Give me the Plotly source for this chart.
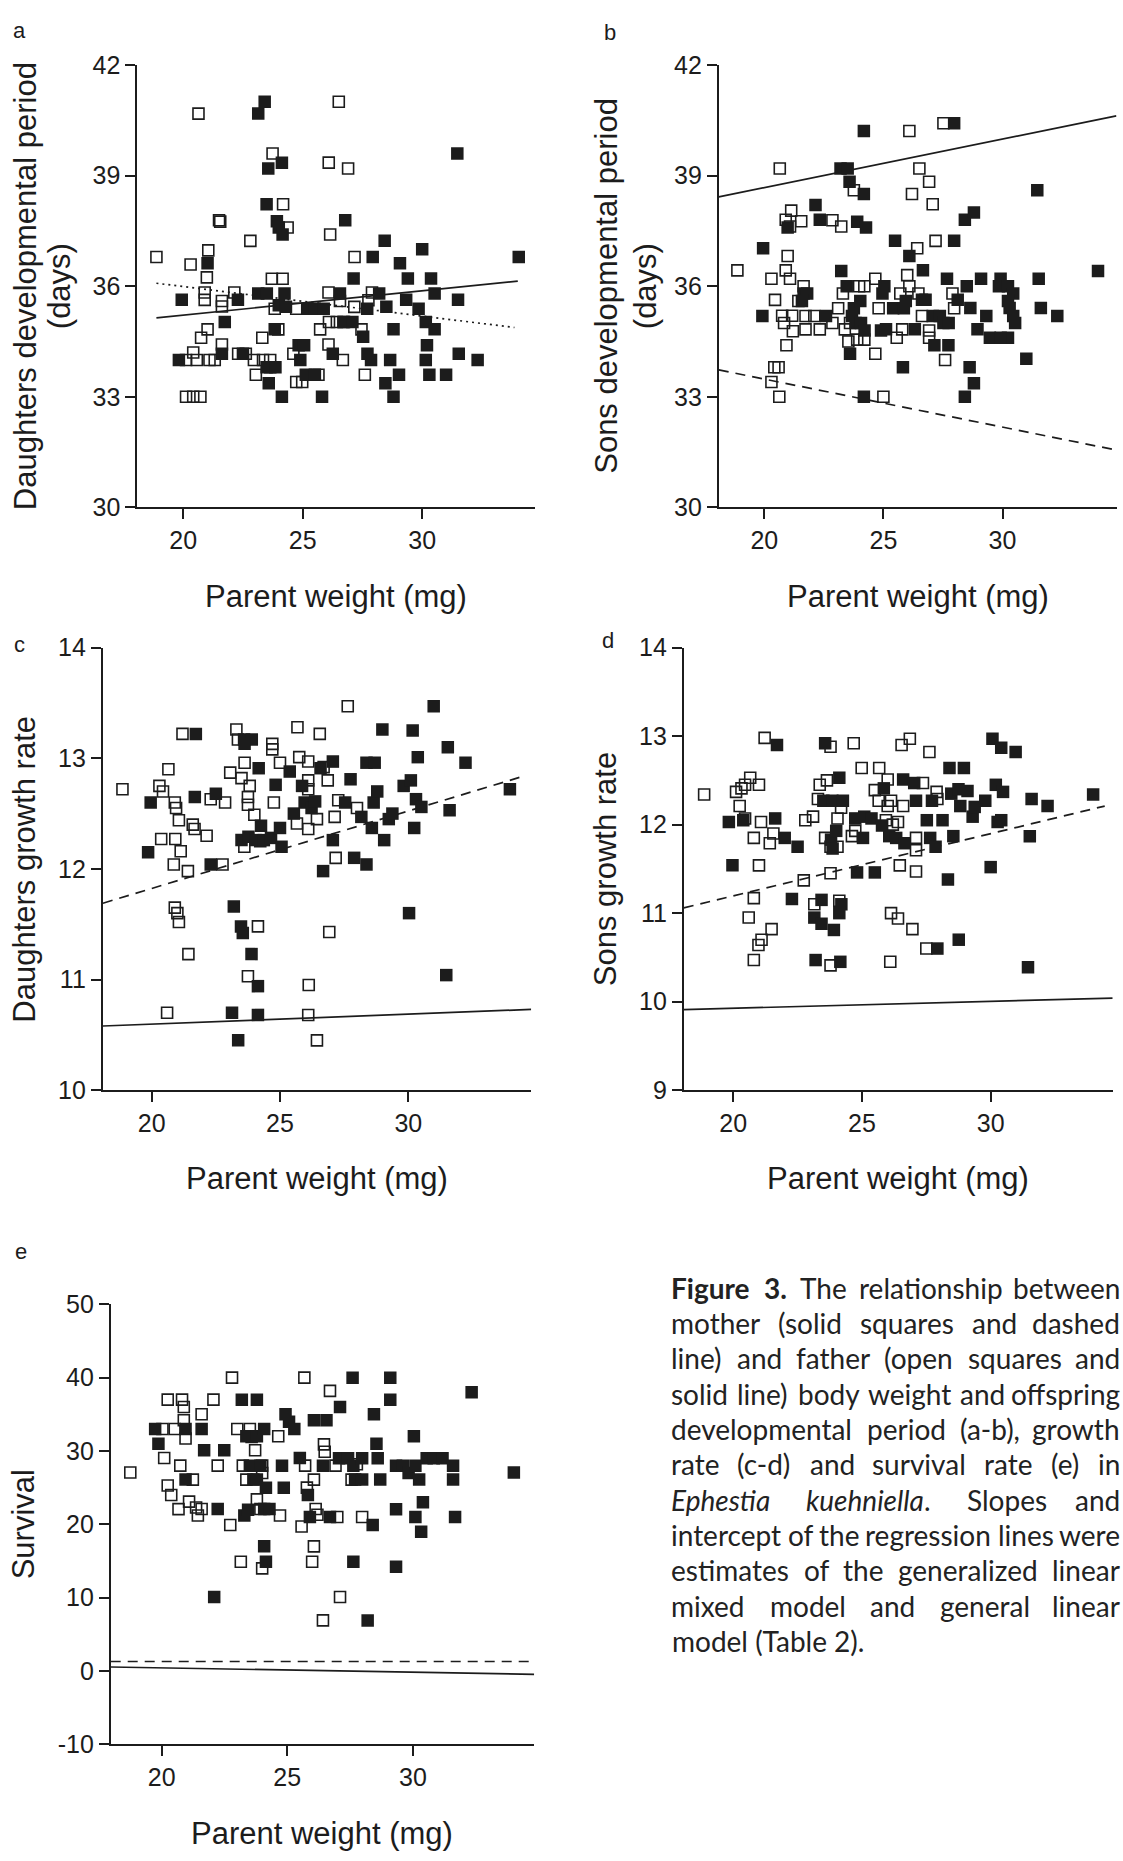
import re
import plotly.graph_objects as go

W, H = 1123, 1861

# ---------------- panel a: daughters developmental period (days) ----------------
a_father_x = [18.88, 20.64, 26.51, 23.74, 26.09, 26.9, 24.18, 21.5, 21.55, 24.37, 22.81, 26.15, 21.05,
              20.31, 20.99, 27.17, 23.71, 24.16, 20.9, 20.9, 22.14, 21.62, 21.62, 23.83, 24.73, 26.08,
              26.56, 27.16, 27.9, 27.75, 25.73, 26.1, 26.43, 26.73, 27.46, 21.02, 20.75, 21.62, 23.31,
              23.98, 26.08, 20.42, 20.12, 20.57, 21.1, 21.32, 22.3, 22.62, 22.96, 23.34, 23.64, 23.64,
              23.04, 24.61, 24.73, 24.98, 25.66, 26.68, 27.6, 20.12, 20.42, 20.72]
a_father_y = [36.79, 40.68, 41.0, 39.6, 39.35, 39.19, 38.22, 37.79, 37.75, 37.59, 37.23, 37.4, 36.97,
              36.59, 36.24, 36.79, 36.2, 36.2, 35.83, 35.63, 35.83, 35.6, 35.45, 35.39, 35.39, 35.83,
              35.6, 35.44, 35.83, 35.62, 34.83, 35.03, 35.03, 35.03, 34.83, 34.83, 34.6, 34.42, 34.6,
              34.83, 34.42, 34.2, 34.0, 34.0, 34.0, 34.0, 34.17, 34.17, 34.0, 34.0, 34.0, 33.8,
              33.6, 34.17, 33.4, 33.4, 33.6, 34.0, 33.6, 33.0, 33.0, 33.0]
a_mother_x = [23.14, 23.41, 23.56, 24.13, 31.47, 23.49, 23.92, 24.0, 24.16, 26.78, 28.43, 30.0, 27.93,
              34.04, 21.02, 29.07, 29.4, 27.13, 30.37, 30.52, 19.94, 22.29, 23.14, 23.5, 24.24, 24.0,
              24.3, 25.2, 25.5, 25.88, 26.56, 28.2, 28.5, 27.7, 29.33, 29.85, 31.5, 26.7, 27.08, 27.53,
              28.8, 30.15, 30.52, 21.74, 23.83, 21.62, 22.5, 24.83, 25.06, 26.26, 27.71, 27.86, 28.66,
              30.2, 30.15, 31.53, 32.32, 19.82, 23.49, 23.86, 23.58, 24.9, 25.13, 25.51, 24.13, 25.81,
              28.46, 28.8, 29.03, 30.3, 31.0]
a_mother_y = [40.68, 41.0, 39.19, 39.35, 39.6, 38.22, 37.76, 37.59, 37.4, 37.79, 37.23, 37.0, 36.79,
              36.79, 36.62, 36.62, 36.21, 36.21, 36.21, 35.8, 35.63, 35.63, 35.8, 35.8, 35.8, 35.48,
              35.44, 35.39, 35.39, 35.39, 35.8, 35.8, 35.44, 35.39, 35.63, 35.39, 35.63, 35.03, 35.03, 34.63,
              34.83, 35.03, 34.83, 35.03, 34.83, 34.17, 34.17, 34.4, 34.4, 34.17, 34.17, 34.0, 34.0,
              34.4, 34.0, 34.17, 34.0, 34.0, 33.8, 33.8, 33.37, 34.0, 33.6, 33.6, 33.0, 33.0,
              33.37, 33.0, 33.6, 33.6, 33.6]
a_father_line_x = [18.88, 34.0]
a_father_line_y = [35.14, 36.14]
a_mother_line_x = [18.88, 33.86]
a_mother_line_y = [36.08, 34.88]

# ---------------- panel b: sons developmental period (days) ----------------
b_father_x = [18.87, 20.65, 26.09, 27.52, 26.51, 26.92, 26.2, 27.07, 23.76, 21.13, 20.9, 21.08, 21.55,
              22.86, 23.23, 26.42, 27.19, 20.98, 20.9, 21.08, 20.3, 20.45, 21.65, 21.43, 20.75, 21.17,
              20.83, 21.73, 22.1, 21.2, 20.93, 21.73, 22.33, 22.86, 23.1, 23.3, 23.38, 23.6, 23.98,
              24.2, 23.53, 23.9, 24.2, 24.66, 24.66, 24.8, 25.71, 25.79, 25.56, 26.0, 26.09, 26.47,
              26.62, 26.92, 26.92, 27.59, 27.9, 27.97, 20.42, 20.6, 20.3, 20.63, 25.0]
b_father_y = [36.43, 39.19, 40.21, 40.42, 39.19, 38.83, 38.5, 38.22, 38.6, 38.05, 37.8, 37.62, 37.76,
              37.79, 37.62, 37.03, 37.23, 36.82, 36.43, 36.2, 36.2, 35.63, 36.0, 35.6, 35.2, 35.2,
              35.0, 35.19, 35.19, 34.78, 34.4, 34.83, 34.83, 35.0, 35.4, 35.8, 34.83, 35.0, 36.0,
              36.0, 34.5, 34.55, 34.55, 36.2, 34.17, 35.4, 35.8, 34.83, 34.6, 36.3, 36.0, 35.8,
              35.19, 34.8, 34.6, 34.0, 35.8, 35.4, 33.8, 33.8, 33.4, 33.0, 33.0]
b_mother_x = [19.95, 19.92, 24.18, 27.97, 23.2, 23.5, 23.58, 24.18, 22.15, 22.33, 20.98, 23.9, 24.27,
              25.49, 26.09, 26.66, 27.97, 28.42, 28.8, 31.46, 34.01, 31.52, 31.61, 32.3, 31.0, 23.23,
              23.46, 21.65, 21.8, 21.58, 22.59, 23.76, 24.03, 23.68, 23.83, 24.06, 24.21, 23.6, 24.9,
              25.11, 25.04, 24.96, 25.41, 25.86, 25.94, 26.32, 26.62, 26.77, 25.82, 27.07, 27.37, 27.52,
              27.74, 27.14, 27.73, 27.67, 28.12, 28.5, 28.65, 29.1, 28.95, 29.32, 29.47, 29.92, 29.85,
              30.23, 30.45, 30.23, 30.3, 30.45, 30.53, 30.23, 29.92, 28.62, 28.8, 28.42, 24.18]
b_mother_y = [37.03, 35.19, 40.21, 40.42, 39.19, 39.19, 38.83, 38.5, 38.2, 37.8, 37.59, 37.75, 37.59,
              37.23, 36.82, 36.43, 37.23, 37.8, 38.0, 38.6, 36.41, 36.2, 35.41, 35.19, 34.03, 36.41,
              36.0, 35.8, 35.8, 35.6, 35.19, 35.4, 35.6, 35.19, 35.0, 35.0, 34.8, 34.17, 34.8,
              34.83, 36.0, 35.8, 35.4, 35.4, 35.6, 34.83, 35.63, 35.63, 33.8, 35.19, 35.19, 35.0,
              35.0, 34.4, 34.4, 36.2, 35.63, 36.0, 35.41, 36.2, 34.83, 35.19, 34.6, 36.2, 36.0,
              36.0, 35.8, 35.6, 35.41, 35.19, 35.0, 34.6, 34.6, 33.8, 33.37, 33.0, 33.0]
b_father_line_x = [18.09, 34.78]
b_father_line_y = [38.42, 40.62]
b_mother_line_x = [18.09, 34.6]
b_mother_line_y = [33.73, 31.58]

# ---------------- panel c: daughters growth rate ----------------
c_father_x = [18.86, 20.65, 20.3, 20.44, 20.9, 20.95, 21.06, 20.37, 20.92, 21.13, 20.86, 21.41, 21.6,
              21.67, 22.14, 22.3, 22.86, 21.2, 22.76, 23.06, 23.3, 23.36, 23.5, 23.62, 23.82, 23.75,
              23.75, 23.61, 24.0, 24.23, 24.7, 24.7, 25.0, 24.76, 25.75, 25.66, 26.1, 25.68, 26.55,
              26.1, 26.1, 26.1, 26.44, 26.86, 26.7, 27.13, 27.17, 26.92, 27.64, 27.27, 28.0, 20.9,
              21.0, 21.06, 21.43, 24.14, 23.75, 26.12, 20.6, 26.1, 26.44]
c_father_y = [12.72, 12.9, 12.75, 12.7, 12.6, 12.55, 12.44, 12.27, 12.27, 12.16, 12.04, 11.98, 12.4,
              12.36, 12.3, 12.63, 12.6, 13.22, 12.04, 12.87, 13.26, 13.17, 12.82, 12.96, 12.75, 12.65,
              12.58, 12.2, 12.49, 12.25, 13.13, 13.08, 12.96, 12.6, 13.01, 12.41, 12.36, 13.28, 13.22,
              12.8, 12.72, 12.97, 12.45, 12.8, 12.92, 12.47, 12.1, 11.43, 13.47, 12.62, 12.55, 11.65,
              11.6, 11.52, 11.23, 11.48, 11.03, 10.95, 10.7, 10.68, 10.45]
c_mother_x = [19.86, 19.96, 21.68, 21.72, 22.5, 22.3, 23.6, 23.9, 23.62, 24.17, 23.5, 23.77, 24.05,
              24.26, 24.37, 24.65, 24.83, 25.0, 25.06, 25.38, 25.86, 25.54, 25.96, 26.23, 26.37, 26.58,
              27.06, 26.68, 27.06, 27.54, 27.75, 27.89, 28.37, 28.17, 28.37, 28.69, 28.58, 28.65, 28.79,
              28.99, 29.06, 29.24, 29.38, 29.82, 30.1, 30.17, 30.23, 30.37, 30.3, 30.51, 30.99, 31.54,
              31.61, 32.23, 33.96, 30.03, 31.48, 23.2, 23.48, 23.55, 23.89, 24.14, 23.13, 24.14, 23.37]
c_mother_y = [12.15, 12.6, 12.65, 13.22, 12.68, 12.04, 13.17, 13.17, 13.13, 12.91, 12.26, 12.29, 12.26,
              12.39, 12.26, 12.28, 12.76, 12.37, 12.2, 12.88, 12.75, 12.5, 12.6, 12.55, 12.61, 12.91,
              12.97, 11.98, 12.26, 12.6, 12.81, 12.1, 12.04, 12.47, 12.96, 12.96, 12.37, 12.6, 12.7,
              13.26, 12.26, 12.45, 12.5, 12.75, 12.8, 13.25, 12.37, 13.01, 12.63, 12.56, 13.47, 13.1,
              12.53, 12.96, 12.72, 11.6, 11.04, 11.66, 11.48, 11.42, 11.23, 10.94, 10.7, 10.68, 10.45]
c_father_line_x = [18.1, 34.79]
c_father_line_y = [10.58, 10.73]
c_mother_line_x = [18.1, 34.52]
c_mother_line_y = [11.69, 12.84]

# ---------------- panel d: sons growth rate ----------------
d_father_x = [18.87, 21.22, 20.11, 20.32, 20.46, 20.66, 21.0, 20.25, 20.46, 21.08, 20.8, 21.42, 21.56,
              21.0, 20.8, 20.6, 21.1, 20.98, 20.8, 21.49, 22.8, 23.1, 22.74, 23.36, 23.29, 23.64,
              23.78, 23.57, 23.78, 23.78, 23.15, 24.05, 24.05, 24.19, 24.12, 23.78, 24.68, 24.61, 24.74,
              24.99, 25.67, 25.5, 25.65, 26.0, 26.0, 26.13, 25.93, 26.2, 26.4, 26.47, 26.13, 26.4,
              26.96, 26.1, 26.54, 26.86, 26.6, 27.1, 27.1, 27.1, 27.37, 27.62, 27.9, 27.93, 27.5]
d_father_y = [12.34, 12.98, 12.37, 12.41, 12.45, 12.53, 12.45, 12.21, 12.07, 12.03, 11.85, 11.79, 11.9,
              11.54, 11.17, 10.95, 10.7, 10.64, 10.47, 10.82, 12.05, 12.09, 11.37, 12.45, 12.29, 12.5,
              12.88, 11.85, 11.75, 11.45, 11.1, 11.75, 12.07, 12.19, 11.14, 10.41, 12.92, 11.87, 11.93,
              12.64, 12.64, 12.39, 12.27, 12.51, 12.21, 12.27, 12.05, 12.0, 12.03, 11.54, 11.0, 10.94,
              10.82, 10.45, 12.9, 12.97, 12.21, 11.85, 11.71, 11.47, 12.47, 12.82, 12.37, 12.29, 10.6]
d_mother_x = [19.83, 19.97, 20.39, 21.63, 21.7, 22.0, 22.5, 22.28, 23.57, 23.5, 23.85, 24.26, 24.12,
              23.8, 24.0, 23.86, 23.43, 23.15, 23.43, 23.91, 24.2, 24.12, 23.2, 24.16, 24.81, 24.74,
              25.04, 25.09, 25.37, 25.5, 25.85, 25.78, 26.06, 26.33, 26.65, 26.6, 27.03, 27.1, 27.52,
              27.65, 27.72, 27.86, 27.93, 28.13, 28.4, 28.47, 28.55, 28.34, 28.76, 28.75, 28.96, 29.1,
              28.82, 29.3, 29.38, 29.79, 30.0, 30.07, 30.41, 30.2, 30.48, 30.27, 30.41, 30.97, 31.59,
              31.52, 31.45, 32.21, 33.98]
d_mother_y = [12.03, 11.54, 12.05, 12.07, 12.9, 11.85, 11.75, 11.16, 12.92, 12.27, 12.27, 12.27, 12.53,
              11.83, 11.93, 11.73, 11.15, 10.95, 10.88, 10.81, 11.1, 11.0, 10.47, 10.45, 11.46, 12.07,
              11.85, 12.09, 12.07, 11.46, 12.41, 11.99, 11.87, 11.85, 11.79, 12.51, 12.47, 12.27, 12.05,
              11.85, 12.27, 11.75, 10.6, 12.05, 12.64, 12.35, 11.87, 11.38, 10.7, 12.4, 12.64, 12.38,
              12.21, 12.09, 12.2, 12.27, 11.52, 12.97, 12.87, 12.45, 12.37, 12.03, 12.05, 12.82, 12.29,
              11.87, 10.39, 12.21, 12.34]
d_father_line_x = [18.08, 34.74]
d_father_line_y = [9.91, 10.04]
d_mother_line_x = [18.08, 34.43]
d_mother_line_y = [11.06, 12.21]

# ---------------- panel e: survival ----------------
e_father_x = [18.75, 20.24, 20.81, 20.88, 20.88, 20.95, 20.03, 20.52, 20.1, 20.24, 20.38, 20.74, 20.67,
              21.09, 21.37, 21.44, 21.59, 21.24, 21.59, 22.06, 22.23, 22.73, 22.8, 23.01, 23.15, 23.23,
              23.37, 23.51, 23.58, 23.72, 23.79, 23.93, 24.0, 24.0, 24.0, 24.64, 24.71, 25.57, 25.68,
              25.71, 25.78, 26.06, 26.13, 26.2, 26.06, 25.99, 26.42, 26.46, 26.49, 26.7, 26.92, 26.99,
              27.1, 27.56, 27.77, 27.98]
e_father_y = [27.07, 37.0, 37.0, 36.0, 34.2, 31.7, 33.0, 33.0, 29.05, 25.3, 24.0, 28.0, 22.07,
              23.1, 22.3, 21.2, 22.1, 26.1, 35.0, 37.0, 28.0, 19.9, 40.0, 33.0, 14.9, 28.0,
              26.1, 33.0, 31.9, 30.1, 23.4, 22.1, 28.0, 27.0, 14.0, 32.0, 21.2, 19.7, 40.0,
              28.0, 25.0, 26.1, 22.1, 21.3, 17.0, 14.9, 6.9, 30.9, 29.9, 38.2, 28.0, 21.0,
              10.1, 26.1, 28.2, 21.0]
e_mother_x = [19.74, 19.87, 20.95, 20.95, 21.59, 21.69, 22.09, 22.23, 22.49, 23.19, 23.29, 23.37, 23.51,
              23.65, 23.44, 23.79, 23.79, 24.08, 23.93, 23.79, 24.15, 24.08, 24.29, 24.08, 24.15, 24.79,
              24.86, 24.93, 25.07, 25.28, 25.5, 25.82, 25.9, 26.06, 26.56, 26.42, 26.7, 27.1, 27.06,
              27.42, 27.63, 27.6, 27.63, 27.7, 27.98, 27.98, 28.2, 28.4, 28.45, 28.55, 28.6, 28.7,
              29.1, 29.1, 29.33, 29.33, 29.33, 29.6, 29.83, 30.04, 30.1, 30.25, 30.1, 30.33, 30.4,
              30.55, 30.83, 31.18, 31.6, 31.6, 31.68, 32.34, 34.02]
e_mother_y = [33.0, 31.0, 26.1, 33.0, 33.0, 30.1, 10.1, 22.1, 30.1, 37.0, 21.2, 32.0, 28.0,
              26.1, 22.0, 37.0, 32.0, 33.0, 28.0, 26.1, 25.0, 22.1, 22.1, 17.0, 14.9, 28.0,
              25.0, 35.0, 34.0, 33.0, 29.05, 24.0, 21.0, 34.2, 34.2, 28.0, 21.0, 36.0, 29.0,
              29.0, 28.0, 40.0, 14.9, 26.1, 26.1, 29.0, 6.9, 19.9, 35.0, 31.0, 29.0, 26.1,
              40.0, 37.0, 22.07, 14.2, 28.0, 28.0, 27.0, 32.0, 28.0, 26.1, 21.0, 19.0, 23.0,
              29.0, 29.0, 29.0, 28.0, 26.1, 21.0, 38.0, 27.07]
e_father_line_x = [17.97, 34.83]
e_father_line_y = [0.55, -0.45]
e_mother_line_x = [17.97, 34.83]
e_mother_line_y = [1.3, 1.3]

x_ticks = [20, 25, 30]

INK = "#1c1c1c"
AXIS_FONT = "Liberation Sans, Arial, Helvetica, sans-serif"

# panel geometry in pixels: (left, right, top, bottom)
panels = [
    dict(key="a", box=(137.3, 535.0, 51.7, 501.0), xr=[18.08, 34.72], yr=[30, 42],
         yt=[30, 33, 36, 39, 42], fx=a_father_x, fy=a_father_y, mx=a_mother_x, my=a_mother_y,
         flx=a_father_line_x, fly=a_father_line_y, mlx=a_mother_line_x, mly=a_mother_line_y,
         mdash="2px,4px", ytitle=[("Daughters developmental period", 25), ("(days)", 59)],
         letter=(19.7, 17.0)),
    dict(key="b", box=(718.8, 1116.6, 51.7, 501.0), xr=[18.09, 34.79], yr=[30, 42],
         yt=[30, 33, 36, 39, 42], fx=b_father_x, fy=b_father_y, mx=b_mother_x, my=b_mother_y,
         flx=b_father_line_x, fly=b_father_line_y, mlx=b_mother_line_x, mly=b_mother_line_y,
         mdash="10px,7px", ytitle=[("Sons developmental period", 606.6), ("(days)", 645)],
         letter=(610, 18.5)),
    dict(key="c", box=(102.7, 531.2, 643.3, 1092.6), xr=[18.09, 34.79], yr=[10, 14],
         yt=[10, 11, 12, 13, 14], fx=c_father_x, fy=c_father_y, mx=c_mother_x, my=c_mother_y,
         flx=c_father_line_x, fly=c_father_line_y, mlx=c_mother_line_x, mly=c_mother_line_y,
         mdash="10px,7px", ytitle=[("Daughters growth rate", 24.8)], letter=(19.5, 640.5)),
    dict(key="d", box=(683.8, 1112.7, 643.3, 1092.6), xr=[18.08, 34.74], yr=[9, 14],
         yt=[9, 10, 11, 12, 13, 14], fx=d_father_x, fy=d_father_y, mx=d_mother_x, my=d_mother_y,
         flx=d_father_line_x, fly=d_father_line_y, mlx=d_mother_line_x, mly=d_mother_line_y,
         mdash="10px,7px", ytitle=[("Sons growth rate", 606.3)], letter=(608, 636)),
    dict(key="e", box=(110.7, 534.2, 1310.0, 1756.8), xr=[17.97, 34.83], yr=[-10, 50],
         yt=[-10, 0, 10, 20, 30, 40, 50], fx=e_father_x, fy=e_father_y, mx=e_mother_x, my=e_mother_y,
         flx=e_father_line_x, fly=e_father_line_y, mlx=e_mother_line_x, mly=e_mother_line_y,
         mdash="10px,7px", ytitle=[("Survival", 23)], letter=(20.6, 1256)),
]


def px_x(v):
    return v / W


def px_y(v):
    return 1 - v / H


fig = go.Figure()
layout = dict(width=W, height=H, autosize=False, margin=dict(l=0, r=0, t=0, b=0),
              paper_bgcolor="white", plot_bgcolor="white", showlegend=False)
annotations = []

axis_style = dict(showline=True, linecolor=INK, linewidth=1.8, ticks="outside", ticklen=10,
                  tickwidth=1.8, tickcolor=INK, showgrid=False, zeroline=False, fixedrange=True,
                  tickfont=dict(family=AXIS_FONT, size=25, color=INK))

for i, p in enumerate(panels, start=1):
    sx = "" if i == 1 else str(i)
    xa, ya = "x" + sx, "y" + sx
    left, right, top, bottom = p["box"]
    layout["xaxis" + sx] = dict(axis_style, domain=[px_x(left), px_x(right)], range=p["xr"],
                                anchor=ya, tickvals=x_ticks, ticktext=[str(t) for t in x_ticks])
    layout["yaxis" + sx] = dict(axis_style, domain=[px_y(bottom), px_y(top)], range=p["yr"],
                                anchor=xa, tickvals=p["yt"], ticktext=[str(t) for t in p["yt"]])

    # regression lines: father solid, mother dashed/dotted
    fig.add_trace(go.Scatter(x=p["flx"], y=p["fly"], mode="lines", xaxis=xa, yaxis=ya,
                             line=dict(color=INK, width=1.7), hoverinfo="skip"))
    fig.add_trace(go.Scatter(x=p["mlx"], y=p["mly"], mode="lines", xaxis=xa, yaxis=ya,
                             line=dict(color=INK, width=1.7, dash=p["mdash"]), hoverinfo="skip"))
    # fathers: open squares
    fig.add_trace(go.Scatter(x=p["fx"], y=p["fy"], mode="markers", xaxis=xa, yaxis=ya,
                             marker=dict(symbol="square-open", size=11, color=INK,
                                         line=dict(width=1.6, color=INK))))
    # mothers: solid squares
    fig.add_trace(go.Scatter(x=p["mx"], y=p["my"], mode="markers", xaxis=xa, yaxis=ya,
                             marker=dict(symbol="square", size=12.5, color=INK,
                                         line=dict(width=0))))

    # axis titles
    for text, xpos in p["ytitle"]:
        annotations.append(dict(text=text, x=px_x(xpos), y=px_y((top + bottom) / 2),
                                xref="paper", yref="paper", xanchor="center", yanchor="middle",
                                textangle=-90, showarrow=False,
                                font=dict(family=AXIS_FONT, size=31, color=INK)))
    annotations.append(dict(text="Parent weight (mg)", x=px_x((left + right) / 2),
                            y=px_y(bottom + 90), xref="paper", yref="paper",
                            xanchor="center", yanchor="middle", showarrow=False,
                            font=dict(family=AXIS_FONT, size=31, color=INK)))
    # panel letter
    lx, ly = p["letter"]
    annotations.append(dict(text=p["key"], x=px_x(lx), y=px_y(ly), xref="paper", yref="paper",
                            xanchor="center", yanchor="middle", showarrow=False,
                            font=dict(family=AXIS_FONT, size=22, color=INK)))

# ---------------- figure caption (justified block) ----------------
CAP_FONT = "Lato, 'Open Sans', sans-serif"
CAP_SIZE = 28
CAP_LEFT, CAP_RIGHT = 670, 1121
CAP_TOP, CAP_STEP = 1293, 35.9

caption_lines = [
    ["<b>Figure</b>", "<b>3.</b>", "The", "relationship", "between"],
    ["mother", "(solid", "squares", "and", "dashed"],
    ["line)", "and", "father", "(open", "squares", "and"],
    ["solid", "line)", "body", "weight", "and", "offspring"],
    ["developmental", "period", "(a-b),", "growth"],
    ["rate", "(c-d)", "and", "survival", "rate", "(e)", "in"],
    ["<i>Ephestia</i>", "<i>kuehniella</i>.", "Slopes", "and"],
    ["intercept", "of", "the", "regression", "lines", "were"],
    ["estimates", "of", "the", "generalized", "linear"],
    ["mixed", "model", "and", "general", "linear"],
    ["model (Table 2)."],
]

# approximate advance widths (em) used to spread words across the column
char_w = {
    "a": .50, "b": .56, "c": .47, "d": .56, "e": .53, "f": .33, "g": .50, "h": .555, "i": .24,
    "j": .24, "k": .52, "l": .24, "m": .84, "n": .555, "o": .56, "p": .555, "q": .56, "r": .37,
    "s": .43, "t": .35, "u": .555, "v": .52, "w": .775, "x": .51, "y": .52, "z": .46,
    "F": .53, "T": .55, "E": .56, "S": .50, "2": .58, "3": .58, "(": .30, ")": .30, ".": .21,
    ",": .21, "-": .33, " ": .193,
}


def word_width(word):
    bold = "<b>" in word
    plain = re.sub(r"<[^>]+>", "", word)
    w = sum(char_w.get(ch, .52) for ch in plain) * CAP_SIZE
    return w * (1.06 if bold else 1.0)


for li, words in enumerate(caption_lines):
    ypos = px_y(CAP_TOP + li * CAP_STEP)
    font = dict(family=CAP_FONT, size=CAP_SIZE, color="#222222")
    if len(words) == 1:
        annotations.append(dict(text=words[0], x=px_x(CAP_LEFT), y=ypos, xref="paper", yref="paper",
                                xanchor="left", yanchor="middle", showarrow=False, font=font))
        continue
    widths = [word_width(w) for w in words]
    gap = (CAP_RIGHT - CAP_LEFT - sum(widths)) / (len(words) - 1)
    xcur = CAP_LEFT
    for wi, (w, ww) in enumerate(zip(words, widths)):
        last = wi == len(words) - 1
        annotations.append(dict(text=w, x=px_x(CAP_RIGHT if last else xcur), y=ypos,
                                xref="paper", yref="paper", xanchor="right" if last else "left",
                                yanchor="middle", showarrow=False, font=font, borderpad=0))
        xcur += ww + gap

layout["annotations"] = annotations
fig.update_layout(**layout)
fig.write_html("out.html")
